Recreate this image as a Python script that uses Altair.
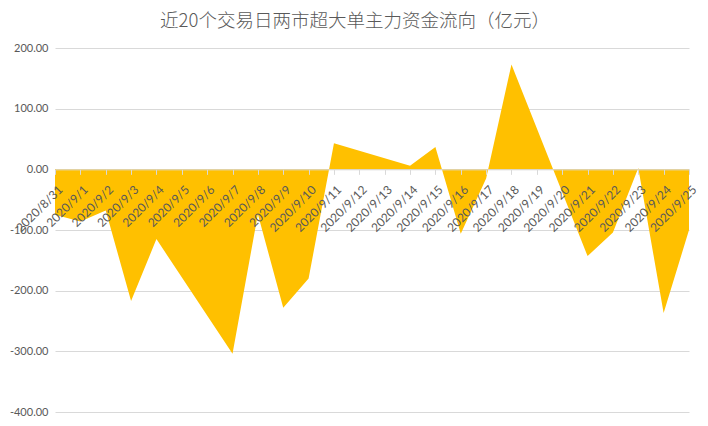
import altair as alt
import pandas as pd

# Trading days and super-large-order main capital net flow (100 million yuan)
trade_dates = ["2020/8/31", "2020/9/1", "2020/9/2", "2020/9/3", "2020/9/4",
               "2020/9/7", "2020/9/8", "2020/9/9", "2020/9/10", "2020/9/11",
               "2020/9/14", "2020/9/15", "2020/9/16", "2020/9/17", "2020/9/18",
               "2020/9/21", "2020/9/22", "2020/9/23", "2020/9/24", "2020/9/25"]
flows = [-75, -86, -68, -217, -115,
         -304, -74, -228, -180, 43,
         6, 37, -106, -15, 173,
         -143, -104, 2, -237, -100]

# Calendar tick labels on the date axis
tick_labels = ["2020/8/31", "2020/9/1", "2020/9/2", "2020/9/3", "2020/9/4",
               "2020/9/5", "2020/9/6", "2020/9/7", "2020/9/8", "2020/9/9",
               "2020/9/10", "2020/9/11", "2020/9/12", "2020/9/13", "2020/9/14",
               "2020/9/15", "2020/9/16", "2020/9/17", "2020/9/18", "2020/9/19",
               "2020/9/20", "2020/9/21", "2020/9/22", "2020/9/23", "2020/9/24",
               "2020/9/25"]
y_ticks = [-400, -300, -200, -100, 0, 100, 200]

title_text = "近20个交易日两市超大单主力资金流向（亿元）"

start = pd.to_datetime(tick_labels[0], format="%Y/%m/%d")
day_index = [(pd.to_datetime(d, format="%Y/%m/%d") - start).days for d in trade_dates]
df = pd.DataFrame({"day": day_index, "flow": flows, "date": trade_dates})

W, H = 634, 364
y_min, y_max = -400, 200
zero_from_bottom = H * (0 - y_min) / (y_max - y_min)

label_js = "[" + ",".join("'" + t + "'" for t in tick_labels) + "]"

chart = alt.Chart(df).mark_area(color="#FFC000", opacity=1).encode(
    x=alt.X("day:Q",
            scale=alt.Scale(domain=[0, len(tick_labels) - 1], nice=False, zero=False),
            axis=alt.Axis(values=list(range(len(tick_labels))),
                          labelExpr=label_js + "[datum.value]",
                          title=None, labelAngle=315, labelAlign="right",
                          labelBaseline="middle", labelPadding=13,
                          labelOffset=5,
                          labelOverlap=False, labelFlush=False,
                          tickSize=5, tickColor="#d9d9d9",
                          domainColor="#d9d9d9", grid=False,
                          offset=-zero_from_bottom, zindex=1,
                          labelFont="Lato", labelFontSize=12,
                          labelColor="#595959")),
    y=alt.Y("flow:Q",
            scale=alt.Scale(domain=[y_min, y_max], nice=False),
            axis=alt.Axis(values=y_ticks,
                          labelExpr="(datum.value < 0 ? '-' : '') + format(abs(datum.value), '.2f')",
                          title=None, domain=False, ticks=False,
                          gridColor="#d9d9d9", labelPadding=7,
                          labelFont="Lato", labelFontSize=11,
                          labelColor="#595959")),
).properties(
    width=W, height=H,
    padding={"left": 47, "top": 40, "right": 10, "bottom": 6},
    autosize=alt.AutoSizeParams(type="none"),
    title=alt.TitleParams(title_text, font="Noto Sans CJK SC", fontSize=18.5,
                          fontWeight=300, color="#595959",
                          anchor="middle", dx=-17, offset=12),
).configure_view(stroke=None)

chart.save("out.html", embed_options={"renderer": "svg", "actions": False})
